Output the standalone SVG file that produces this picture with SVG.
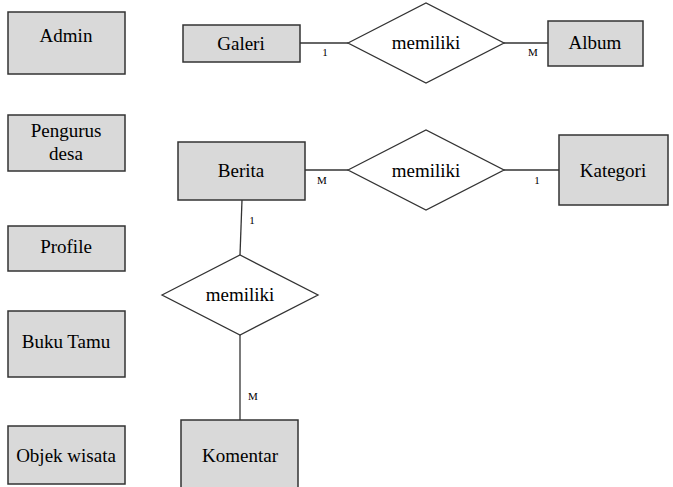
<svg xmlns="http://www.w3.org/2000/svg" width="673" height="487" viewBox="0 0 673 487">
<style>
.ent{fill:#d9d9d9;stroke:#333;stroke-width:1.5}
.rel{fill:#fff;stroke:#333;stroke-width:1.3}
.ln{stroke:#333;stroke-width:1.3;fill:none}
</style>
<rect width="673" height="487" fill="#fff"/>
<g id="connectors">
<line class="ln" x1="300" y1="43" x2="348" y2="43"/>
<line class="ln" x1="504" y1="43" x2="548" y2="43"/>
<line class="ln" x1="305" y1="170" x2="348" y2="170"/>
<line class="ln" x1="504" y1="170" x2="559" y2="170"/>
<line class="ln" x1="242" y1="200" x2="240" y2="255"/>
<line class="ln" x1="240" y1="335" x2="240" y2="420"/>
<text x="325" y="56" font-family="Liberation Serif" font-size="11" text-anchor="middle">1</text>
<text x="533" y="56" font-family="Liberation Serif" font-size="11" text-anchor="middle">M</text>
<text x="322" y="184" font-family="Liberation Serif" font-size="11" text-anchor="middle">M</text>
<text x="537" y="184" font-family="Liberation Serif" font-size="11" text-anchor="middle">1</text>
<text x="252" y="224" font-family="Liberation Serif" font-size="11" text-anchor="middle">1</text>
<text x="253" y="400" font-family="Liberation Serif" font-size="11" text-anchor="middle">M</text>
</g>
<g id="admin"><rect class="ent" x="8" y="12" width="117" height="62"/><text x="66" y="42" font-family="Liberation Serif" font-size="19" text-anchor="middle">Admin</text></g>
<g id="pengurus"><rect class="ent" x="8" y="115" width="117" height="56"/><text x="66" y="137" font-family="Liberation Serif" font-size="19" text-anchor="middle">Pengurus</text><text x="66" y="160" font-family="Liberation Serif" font-size="19" text-anchor="middle">desa</text></g>
<g id="profile"><rect class="ent" x="8" y="226" width="117" height="45"/><text x="66" y="253" font-family="Liberation Serif" font-size="19" text-anchor="middle">Profile</text></g>
<g id="bukutamu"><rect class="ent" x="8" y="311" width="117" height="66"/><text x="66" y="348" font-family="Liberation Serif" font-size="19" text-anchor="middle">Buku Tamu</text></g>
<g id="objek"><rect class="ent" x="8" y="426" width="117" height="58"/><text x="66" y="462" font-family="Liberation Serif" font-size="19" text-anchor="middle">Objek wisata</text></g>
<g id="galeri"><rect class="ent" x="183" y="25" width="117" height="37"/><text x="241" y="50" font-family="Liberation Serif" font-size="19" text-anchor="middle">Galeri</text></g>
<g id="rel1"><polygon class="rel" points="348,43 426,3 504,43 426,83"/><text x="426" y="49" font-family="Liberation Serif" font-size="19" text-anchor="middle">memiliki</text></g>
<g id="album"><rect class="ent" x="548" y="21" width="95" height="45"/><text x="595" y="49" font-family="Liberation Serif" font-size="19" text-anchor="middle">Album</text></g>
<g id="berita"><rect class="ent" x="178" y="142" width="127" height="58"/><text x="241" y="177" font-family="Liberation Serif" font-size="19" text-anchor="middle">Berita</text></g>
<g id="rel2"><polygon class="rel" points="348,170 426,130 504,170 426,210"/><text x="426" y="177" font-family="Liberation Serif" font-size="19" text-anchor="middle">memiliki</text></g>
<g id="kategori"><rect class="ent" x="559" y="135" width="109" height="70"/><text x="613" y="177" font-family="Liberation Serif" font-size="19" text-anchor="middle">Kategori</text></g>
<g id="rel3"><polygon class="rel" points="162,295 240,255 318,295 240,335"/><text x="240" y="301" font-family="Liberation Serif" font-size="19" text-anchor="middle">memiliki</text></g>
<g id="komentar"><rect class="ent" x="181" y="420" width="117" height="70"/><text x="240" y="462" font-family="Liberation Serif" font-size="19" text-anchor="middle">Komentar</text></g>
</svg>
